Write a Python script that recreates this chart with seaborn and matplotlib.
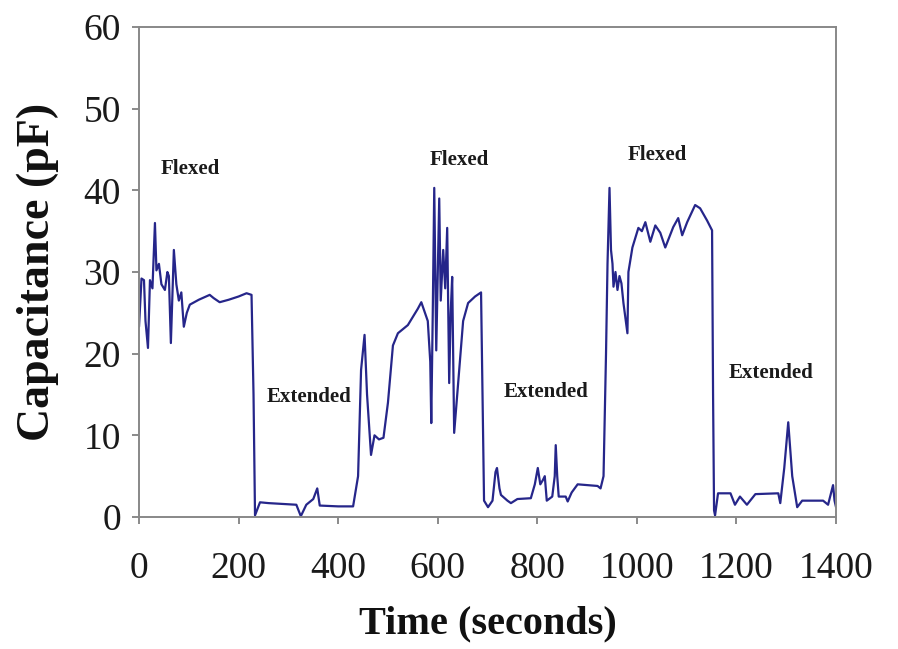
import pandas as pd
import matplotlib
matplotlib.use("Agg")
import matplotlib.pyplot as plt
import seaborn as sns

# Capacitance trace (time in s, capacitance in pF)
time_s = [0, 5, 10, 13, 18, 22, 27, 32, 35, 40, 45, 52, 57, 60, 64, 70, 75, 80, 85, 90,
          96, 102, 120, 142, 150, 162, 180, 200, 216, 226, 230, 233, 238, 243, 260, 290,
          316, 325, 336, 350, 358, 363, 400, 430, 440, 446, 453, 458, 466, 473, 482, 491,
          500, 510, 520, 540, 560, 567, 580, 585, 587, 590, 593, 597, 600, 603, 606, 611,
          615, 619, 623, 626, 629, 633, 641, 651, 661, 675, 687, 690, 693, 701, 710, 716,
          719, 724, 727, 740, 747, 760, 787, 795, 801, 806, 811, 815, 819, 830, 835, 837,
          840, 843, 857, 861, 869, 881, 900, 921, 927, 933, 938, 941, 945, 948, 951, 953,
          957, 961, 965, 969, 973, 981, 983, 991, 1003, 1010, 1017, 1027, 1037, 1047, 1057,
          1073, 1083, 1091, 1101, 1117, 1127, 1141, 1151, 1153, 1155, 1157, 1163, 1188,
          1197, 1207, 1214, 1221, 1238, 1284, 1288, 1296, 1304, 1312, 1322, 1332, 1374,
          1384, 1394, 1397, 1400]
capacitance = [23.3, 29.2, 29.0, 24.0, 20.7, 29.0, 28.0, 36.0, 30.2, 31.0, 28.5, 27.8, 30.0,
               29.5, 21.3, 32.7, 28.5, 26.5, 27.5, 23.3, 25.0, 26.0, 26.6, 27.2, 26.8, 26.3,
               26.6, 27.0, 27.4, 27.2, 15.0, 0.2, 1.0, 1.8, 1.7, 1.6, 1.5, 0.1, 1.5, 2.2,
               3.5, 1.4, 1.3, 1.3, 5.0, 18.0, 22.3, 15.0, 7.6, 10.0, 9.5, 9.7, 14.0, 21.0,
               22.5, 23.5, 25.5, 26.3, 24.0, 19.0, 11.5, 25.0, 40.3, 20.4, 30.0, 39.0, 26.5,
               32.7, 28.0, 35.4, 16.4, 25.0, 29.4, 10.3, 16.4, 24.0, 26.2, 27.0, 27.5, 15.0,
               2.0, 1.2, 2.0, 5.5, 6.0, 3.5, 2.7, 2.0, 1.7, 2.2, 2.3, 4.0, 6.0, 4.0, 4.5,
               5.0, 2.0, 2.5, 5.0, 8.8, 5.0, 2.5, 2.5, 1.9, 3.0, 4.0, 3.9, 3.8, 3.5, 5.0,
               20.0, 31.0, 40.3, 32.7, 31.0, 28.2, 30.0, 27.8, 29.5, 28.6, 26.2, 22.5, 30.0,
               33.0, 35.4, 35.0, 36.1, 33.7, 35.7, 34.8, 33.0, 35.5, 36.6, 34.5, 36.1, 38.2,
               37.8, 36.3, 35.1, 15.0, 0.8, 0.2, 2.9, 2.9, 1.5, 2.5, 2.0, 1.5, 2.8, 2.9, 1.7,
               6.0, 11.6, 5.0, 1.2, 2.0, 2.0, 1.5, 3.9, 2.0, 1.2]

state_labels = ["Flexed", "Extended", "Flexed", "Extended", "Flexed", "Extended"]
label_x = [102, 342, 643, 817, 1041, 1270]
label_y = [42.6, 14.7, 43.7, 15.3, 44.3, 17.6]

df = pd.DataFrame({"Time": time_s, "Capacitance": capacitance})

sns.set_style("white")
plt.rcParams["font.family"] = ["Liberation Serif", "DejaVu Serif"]

fig = plt.figure(figsize=(8.98, 6.49), dpi=100)
ax = fig.add_axes([0.1548, 0.2034, 0.7762, 0.755])

sns.lineplot(data=df, x="Time", y="Capacitance", ax=ax, color="#26268a",
             linewidth=1.6, estimator=None)

for txt, x, y in zip(state_labels, label_x, label_y):
    ax.text(x, y, txt, ha="center", va="center", fontsize=15, fontweight="bold",
            color="#1a1a1a")

ax.set_xlim(0, 1400)
ax.set_ylim(0, 60)
ax.set_xticks(range(0, 1401, 200))
ax.set_yticks(range(0, 61, 10))
ax.tick_params(axis="both", bottom=True, left=True, labelsize=27, colors="#777777",
               labelcolor="#1a1a1a", length=5, width=1.2, direction="out")
ax.tick_params(axis="x", pad=20)
ax.tick_params(axis="y", pad=8)
for s in ax.spines.values():
    s.set_color("#888888")
    s.set_linewidth(1.4)

ax.set_xlabel("Time (seconds)", fontsize=29, fontweight="bold", labelpad=14, color="#111111")
ax.set_ylabel("Capacitance (pF)", fontsize=33, fontweight="bold", labelpad=18, color="#111111")

fig.savefig("out.png", dpi=100)
